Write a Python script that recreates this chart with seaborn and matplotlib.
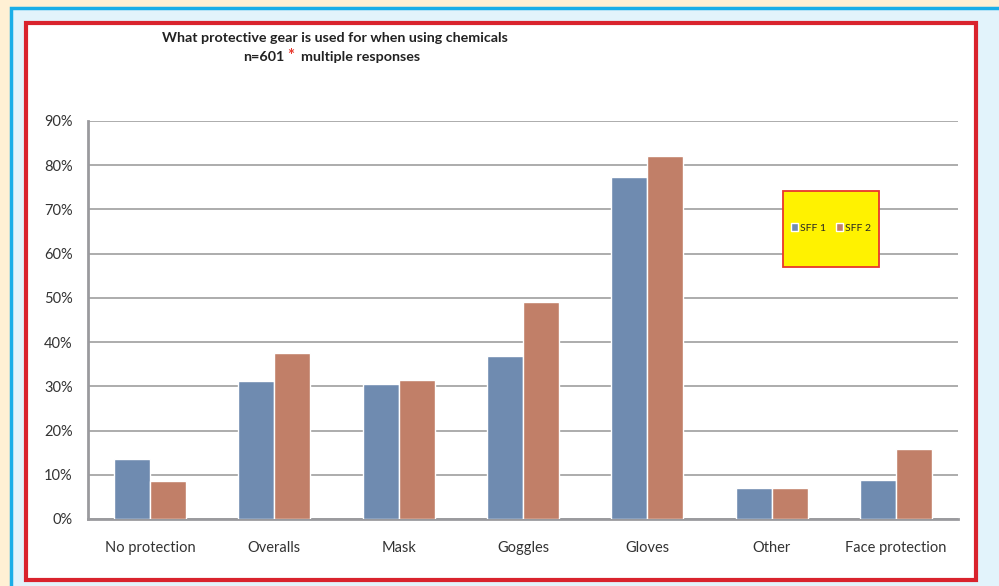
import pandas as pd
import numpy as np
import matplotlib
matplotlib.use("Agg")
import matplotlib.pyplot as plt
from matplotlib.patches import Rectangle
from matplotlib.ticker import PercentFormatter
import seaborn as sns

# data (percent of respondents)
categories = ["No protection", "Overalls", "Mask", "Goggles", "Gloves", "Other", "Face protection"]
sff1 = [13.6, 31.2, 30.5, 36.9, 77.4, 7.0, 8.8]
sff2 = [8.6, 37.5, 31.4, 49.1, 82.1, 7.0, 15.8]
series = ["SFF 1", "SFF 2"]
colors = ["#6F8BB0", "#C17F68"]

df = pd.DataFrame({"gear": categories * 2,
                   "pct": sff1 + sff2,
                   "survey": [series[0]] * len(categories) + [series[1]] * len(categories)})

sns.set_style("white")
plt.rcParams['font.family'] = ['Lato', 'DejaVu Sans']

fig = plt.figure(figsize=(9.99, 5.86), dpi=100)
W, H = 999, 586
fig.patch.set_facecolor("#FFF0D4")

# background axes for the frame decoration, in pixel coords (top-left origin)
bg = fig.add_axes([0, 0, 1, 1], zorder=-1)
bg.set_xlim(0, W)
bg.set_ylim(H, 0)
bg.axis("off")
bg.add_patch(Rectangle((11, 8), 1000, 600, facecolor="#E2F3FB", edgecolor="#19AEE8", linewidth=2.5))
bg.add_patch(Rectangle((25.5, 22.5), 950, 557, facecolor="white", edgecolor="#D9232D", linewidth=3))

ax = fig.add_axes([88 / W, 1 - 519 / H, (958 - 88) / W, (519 - 121) / H])
ax.set_facecolor("none")
sns.barplot(data=df, x="gear", y="pct", hue="survey", palette=colors, width=0.58,
            saturation=1, ax=ax, legend=True, zorder=3)

ax.set_ylim(0, 90)
ax.set_yticks(np.arange(0, 91, 10))
ax.yaxis.set_major_formatter(PercentFormatter(decimals=0))
ax.grid(axis="y", color="#A6A6A6", linewidth=1.3, zorder=0)
ax.set_axisbelow(True)
ax.set_xlabel("")
ax.set_ylabel("")
for s in ["top", "right"]:
    ax.spines[s].set_visible(False)
for s in ["left", "bottom"]:
    ax.spines[s].set_color("#9A9A9E")
    ax.spines[s].set_linewidth(2)
ax.tick_params(axis="both", length=0, labelsize=10.5, colors="#333333")
ax.tick_params(axis="y", pad=11)
ax.tick_params(axis="x", pad=15.5)

# yellow legend box drawn separately so its size matches the reference
ax.add_patch(Rectangle((782.5, 190.5), 96, 76, transform=bg.transData, clip_on=False,
                       facecolor="#FFF200", edgecolor="#E8372C", linewidth=1.3, zorder=4))
leg = ax.legend(loc="center", bbox_to_anchor=((831 - 88) / 870, (519 - 228) / 398),
                ncol=2, frameon=False, fontsize=7.5, handlelength=0.7, handleheight=0.7,
                handletextpad=0.2, columnspacing=0.9)
leg.set_zorder(5)

fig.text(335 / W, 1 - 38 / H, "What protective gear is used for when using chemicals",
         ha="center", va="center", fontsize=10.3, fontweight="bold", color="#222222")
fig.text(284 / W, 1 - 57 / H, "n=601", ha="right", va="center", fontsize=10.3,
         fontweight="bold", color="#222222")
fig.text(291 / W, 1 - 56 / H, "*", ha="center", va="center", fontsize=12,
         fontweight="bold", color="#E8372C")
fig.text(301 / W, 1 - 57 / H, "multiple responses", ha="left", va="center", fontsize=10.3,
         fontweight="bold", color="#222222")

fig.savefig("out.png", dpi=100, facecolor=fig.get_facecolor())
